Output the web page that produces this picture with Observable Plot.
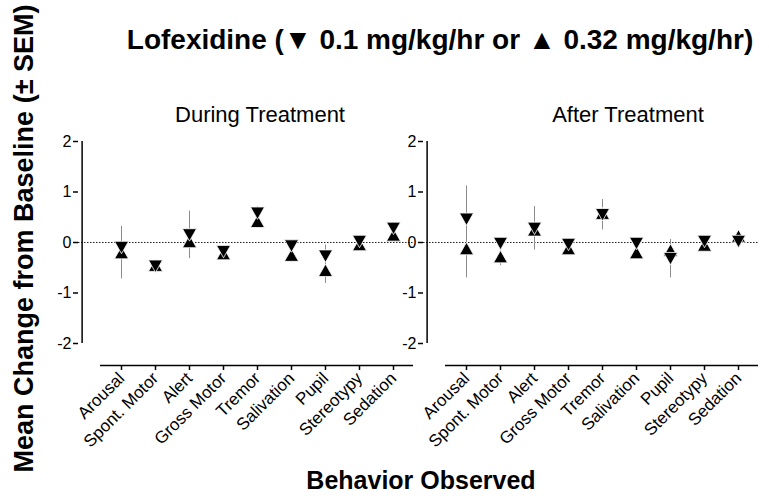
<!DOCTYPE html>
<html>
<head>
<meta charset="utf-8">
<script src="https://cdn.jsdelivr.net/npm/d3@7"></script>
<script src="https://cdn.jsdelivr.net/npm/@observablehq/plot@0.6"></script>
<style>
  html, body { margin: 0; padding: 0; background: white; }
  #wrap { position: relative; width: 769px; height: 500px; overflow: hidden; color: black;
          font-family: "Liberation Sans", Arial, sans-serif; }
  .abs { position: absolute; white-space: nowrap; line-height: 1; }
  .plotA, .plotB { position: absolute; top: 0; }
</style>
</head>
<body>
<div id="wrap"></div>
<script>
// ---- data ----
const behaviors = ["Arousal", "Spont. Motor", "Alert", "Gross Motor", "Tremor", "Salivation", "Pupil", "Stereotypy", "Sedation"];
const yTicks = [-2, -1, 0, 1, 2];
const panelTitles = ["During Treatment", "After Treatment"];

// During treatment: ▼ 0.1 mg/kg/hr and ▲ 0.32 mg/kg/hr (mean, SEM)
const duringLow     = [-0.10, -0.47, 0.15, -0.18, 0.58, -0.07, -0.27, 0.02, 0.28];
const duringLowSem  = [0.08, 0.08, 0.47, 0.05, 0.13, 0.05, 0.22, 0.05, 0.06];
const duringHigh    = [-0.20, -0.45, 0.02, -0.22, 0.42, -0.25, -0.55, -0.04, 0.15];
const duringHighSem = [0.52, 0.10, 0.10, 0.06, 0.12, 0.05, 0.26, 0.04, 0.06];

// After treatment
const afterLow     = [0.46, -0.02, 0.28, -0.04, 0.55, -0.02, -0.32, 0.02, 0.02];
const afterLowSem  = [0.66, 0.06, 0.43, 0.06, 0.30, 0.06, 0.38, 0.05, 0.05];
const afterHigh    = [-0.12, -0.28, 0.25, -0.12, 0.58, -0.20, -0.15, -0.05, 0.13];
const afterHighSem = [0.58, 0.18, 0.08, 0.05, 0.08, 0.05, 0.08, 0.04, 0.08];

// ---- symbols (bounding-box centred triangles) ----
const upTri = {
  draw(ctx, size) {
    const r = Math.sqrt(size / Math.PI), w = 1.3 * r, h = 1.15 * r;
    ctx.moveTo(0, -h); ctx.lineTo(w, h); ctx.lineTo(-w, h); ctx.closePath();
  }
};
const downTri = {
  draw(ctx, size) {
    const r = Math.sqrt(size / Math.PI), w = 1.3 * r, h = 1.15 * r;
    ctx.moveTo(0, h); ctx.lineTo(-w, -h); ctx.lineTo(w, -h); ctx.closePath();
  }
};

const fmt = d => (d < 0 ? "-" + Math.abs(d) : String(d));
const X0 = 100, X1 = 413, AXOFF = 22;
const halfStep = (X1 - X0) / behaviors.length / 2;

function panel(low, lowSem, high, highSem) {
  const rows = behaviors.map((b, i) => ({b, low: low[i], lowSem: lowSem[i], high: high[i], highSem: highSem[i]}));
  return Plot.plot({
    width: 420, height: 500,
    marginTop: 141, marginBottom: 157, marginLeft: X0 - AXOFF, marginRight: 420 - X1,
    x: {type: "point", domain: behaviors, range: [X0, X1], padding: 0.5, label: null},
    y: {domain: [-2, 2], label: null},
    style: {background: "transparent", overflow: "visible", fontFamily: "Liberation Sans, Arial, sans-serif", fontSize: "15px", color: "black"},
    marks: [
      Plot.ruleY([0], {stroke: "#222", strokeWidth: 1.2, strokeDasharray: "1.5,1.5"}),
      Plot.ruleY([-2], {dy: AXOFF, insetLeft: AXOFF, stroke: "black", strokeWidth: 1.5}),
      Plot.ruleX([behaviors[0]], {x: d => d, dx: -(halfStep + AXOFF), y1: -2, y2: 2, stroke: "black", strokeWidth: 1.5}),
      Plot.ruleX(rows, {x: "b", y1: d => d.high - d.highSem, y2: d => d.high + d.highSem, stroke: "#8c8c8c", strokeWidth: 1}),
      Plot.ruleX(rows, {x: "b", y1: d => d.low - d.lowSem, y2: d => d.low + d.lowSem, stroke: "#8c8c8c", strokeWidth: 1}),
      Plot.dot(rows, {x: "b", y: "high", symbol: upTri, r: 5.4, fill: "black", stroke: "white", strokeWidth: 0.8}),
      Plot.dot(rows, {x: "b", y: "low", symbol: downTri, r: 5.4, fill: "black", stroke: "white", strokeWidth: 0.8}),
      Plot.axisY({ticks: yTicks, tickFormat: fmt, tickSize: 5, tickPadding: 2, fontSize: 16, strokeWidth: 1.5}),
      Plot.axisX({dy: AXOFF, tickSize: 5, tickPadding: 5, tickRotate: -45, fontSize: 17, strokeWidth: 1.5})
    ]
  });
}

const wrap = document.getElementById("wrap");
const a = panel(duringLow, duringLowSem, duringHigh, duringHighSem);
a.classList.add("plotA"); a.style.left = "0px";
const b = panel(afterLow, afterLowSem, afterHigh, afterHighSem);
b.classList.add("plotB"); b.style.left = "345px";
wrap.appendChild(a);
wrap.appendChild(b);

function addText(txt, css) {
  const d = document.createElement("div");
  d.className = "abs";
  d.textContent = txt;
  Object.assign(d.style, css);
  wrap.appendChild(d);
  return d;
}
// title (baseline ~50)
addText("Lofexidine (\u25BC 0.1 mg/kg/hr or  \u25B2 0.32 mg/kg/hr)",
  {left: "440px", top: (50 - 0.8465 * 28) + "px", transform: "translateX(-50%)", fontSize: "28px", fontWeight: "bold"});
// panel titles (baseline ~123)
addText(panelTitles[0], {left: "260px", top: (123 - 0.8465 * 22) + "px", transform: "translateX(-50%)", fontSize: "22px"});
addText(panelTitles[1], {left: "628px", top: (123 - 0.8465 * 22) + "px", transform: "translateX(-50%)", fontSize: "22px"});
// x label (baseline ~489)
addText("Behavior Observed", {left: "421px", top: (489 - 0.8465 * 25) + "px", transform: "translateX(-50%)", fontSize: "25px", fontWeight: "bold"});
// y label rotated
const yl = addText("Mean Change from Baseline (\u00B1 SEM)", {fontSize: "27px", fontWeight: "bold", width: "600px", textAlign: "center"});
yl.style.left = (23.6 - 300) + "px";
yl.style.top = (238 - 13.5) + "px";
yl.style.transform = "rotate(-90deg)";
yl.style.transformOrigin = "50% 50%";
</script>
</body>
</html>
